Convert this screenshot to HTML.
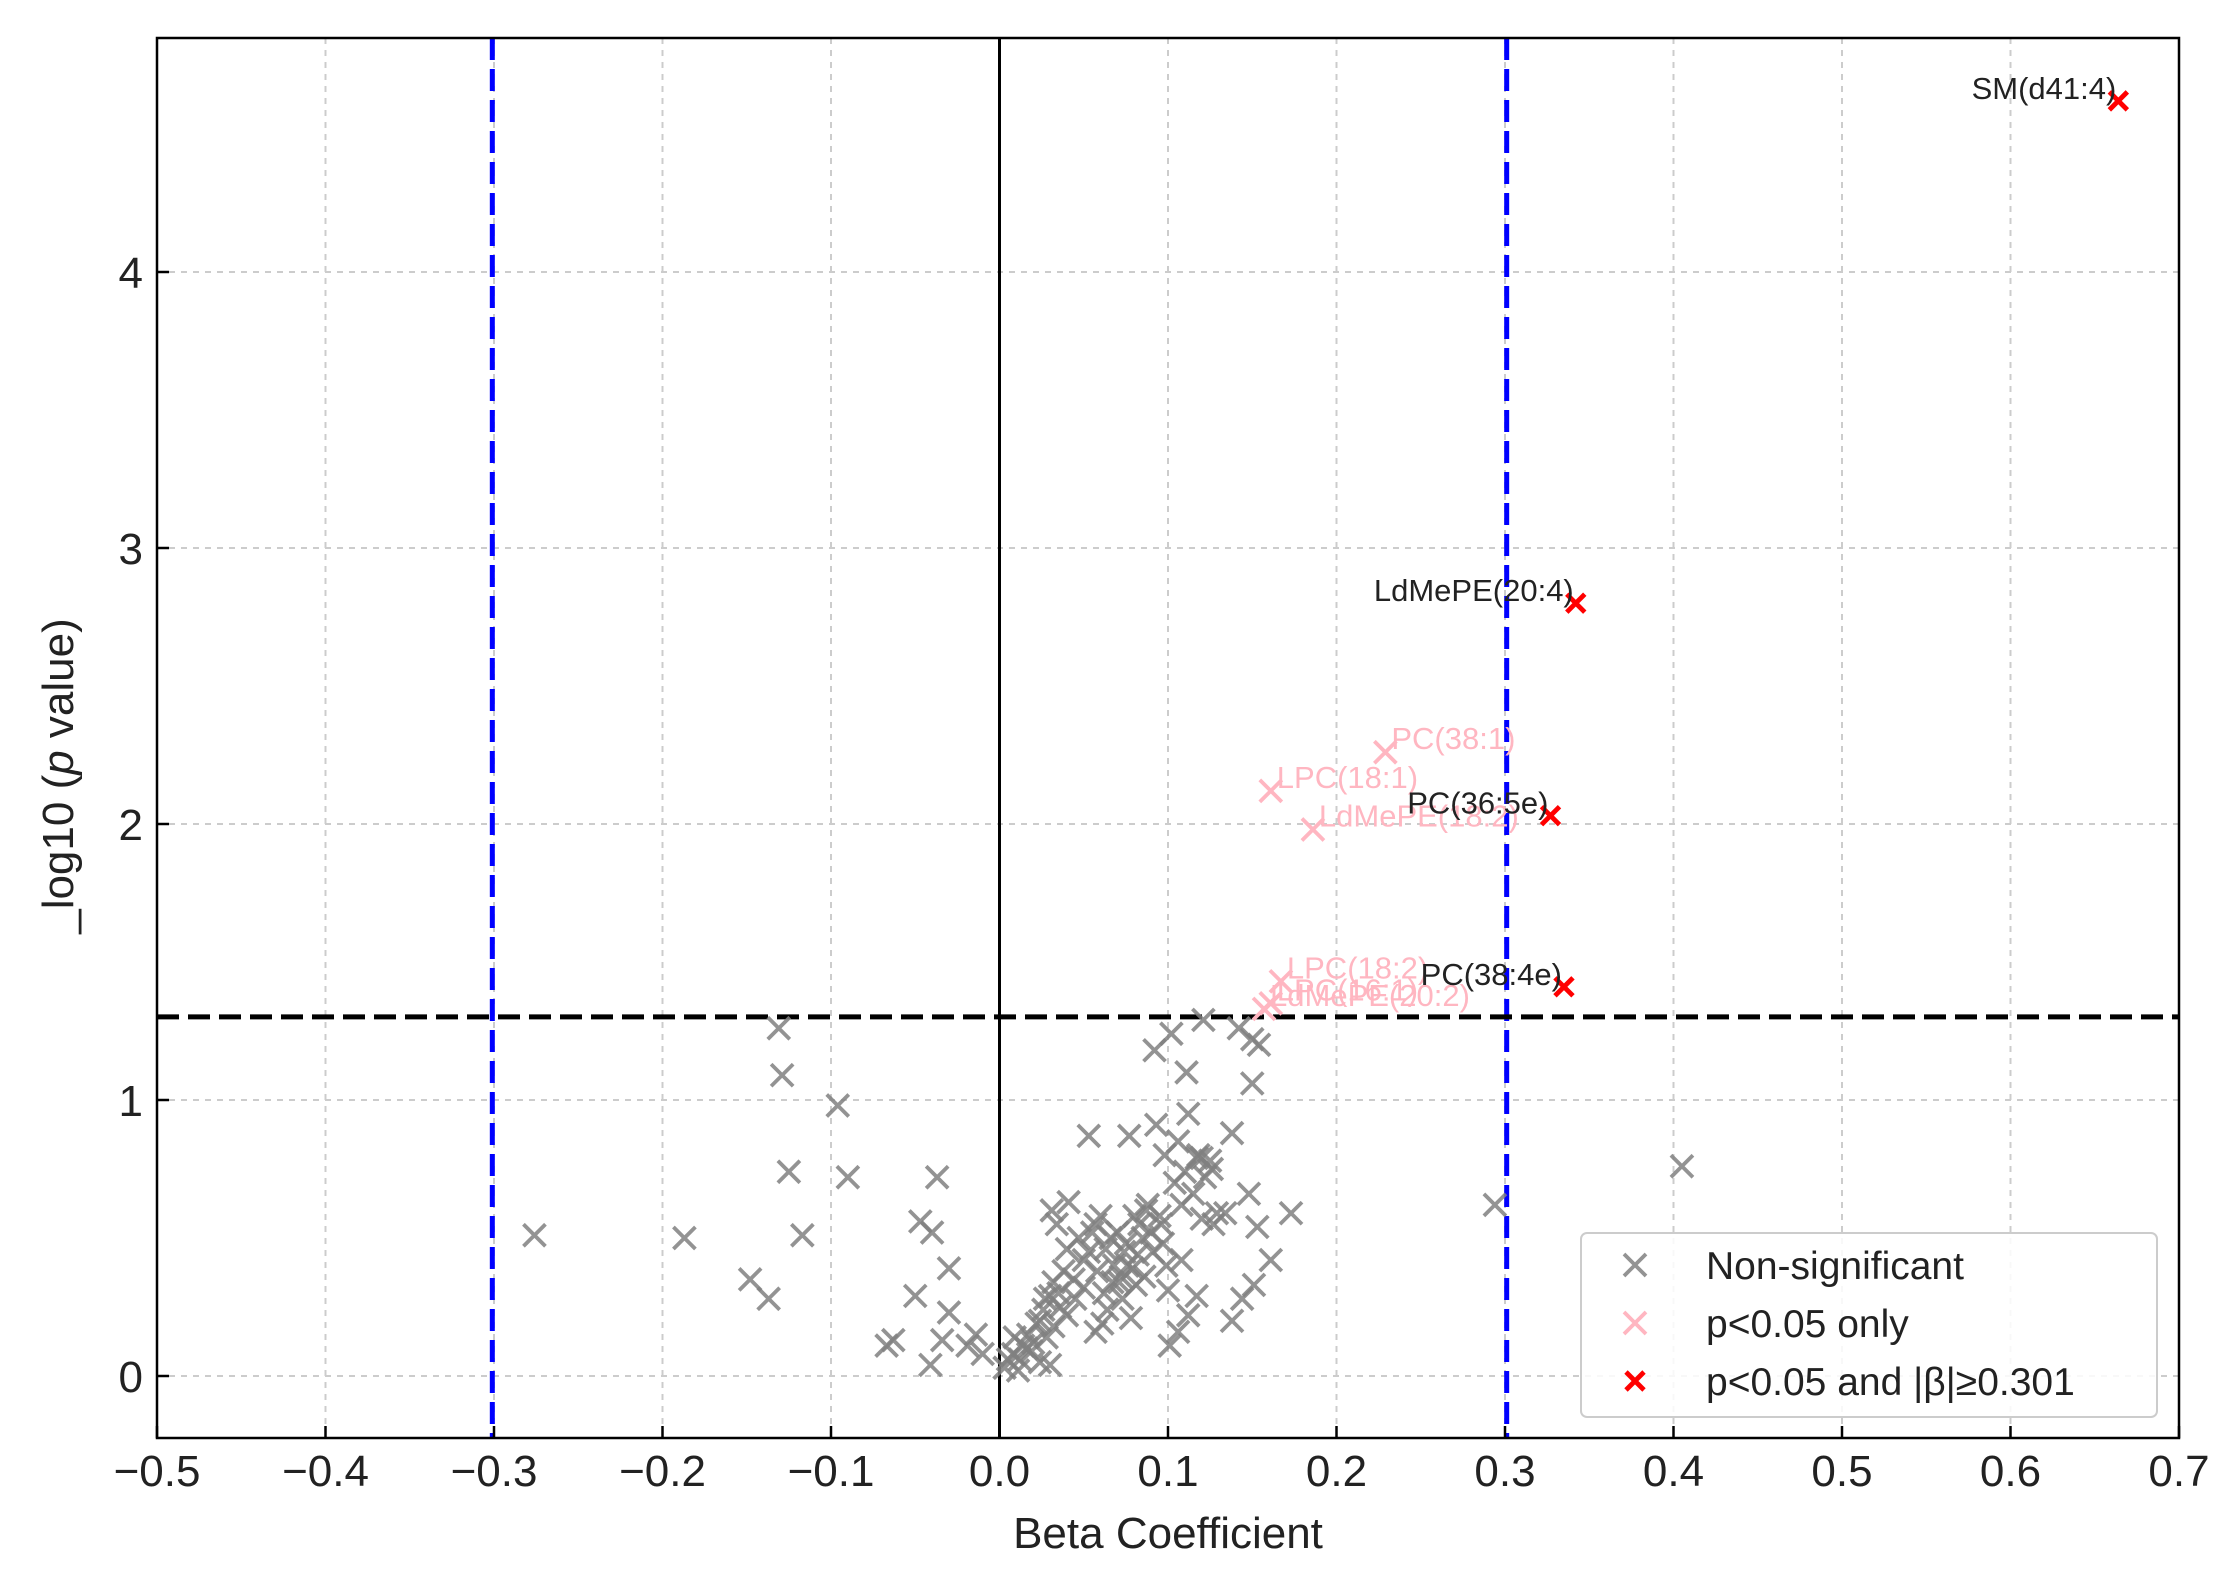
<!DOCTYPE html>
<html><head><meta charset="utf-8">
<style>
html,body{margin:0;padding:0;background:#fff;}
svg{display:block;font-family:"Liberation Sans","DejaVu Sans",sans-serif;}
</style></head>
<body>
<svg id="chart" width="2233" height="1573" viewBox="0 0 2233 1573" xmlns="http://www.w3.org/2000/svg">
<g id="grid"></g>
<g id="refs"></g>
<g id="marks"></g>
<g id="labels"></g>
<rect x="157" y="38" width="2022" height="1400" fill="none" stroke="#000" stroke-width="2.5"/>
<g id="ticks"></g>
<text x="1168" y="1548" font-size="44" text-anchor="middle" fill="#222">Beta Coefficient</text>
<text transform="translate(73,776) rotate(-90)" font-size="44" text-anchor="middle" fill="#222">_log10 (<tspan font-style="italic">p</tspan> value)</text>
<g>
<rect x="1581" y="1233" width="576" height="184" rx="6" fill="#fff" fill-opacity="0.85" stroke="#ccc" stroke-width="2"/>
<g id="legendMarks"></g>
<text x="1706" y="1279" font-size="39" fill="#222">Non-significant</text>
<text x="1706" y="1337" font-size="39" fill="#222">p&lt;0.05 only</text>
<text x="1706" y="1395" font-size="39" fill="#222">p&lt;0.05 and |β|≥0.301</text>
</g>
</svg>
<script>
const xTicks = [-0.5,-0.4,-0.3,-0.2,-0.1,0.0,0.1,0.2,0.3,0.4,0.5,0.6,0.7];
const xTickLabels = ["−0.5","−0.4","−0.3","−0.2","−0.1","0.0","0.1","0.2","0.3","0.4","0.5","0.6","0.7"];
const yTicks = [0,1,2,3,4];
const yTickLabels = ["0","1","2","3","4"];
const grayBeta = [-0.276,-0.187,-0.148,-0.137,-0.131,-0.129,-0.125,-0.117,-0.096,-0.090,-0.067,-0.063,-0.050,-0.047,-0.040,-0.037,-0.041,-0.030,-0.030,-0.034,-0.014,-0.010,-0.019,
0.003,0.008,0.014,0.017,0.022,0.026,0.030,0.032,0.005,0.011,0.019,0.028,0.032,0.036,0.030,0.024,
0.031,0.034,0.041,0.047,0.053,0.057,0.066,0.074,0.079,0.083,0.087,0.091,0.071,0.064,0.057,0.061,0.078,0.100,0.096,0.108,0.117,0.112,0.120,0.129,0.127,0.106,
0.053,0.077,0.092,0.111,0.102,0.121,0.093,0.098,0.106,0.112,0.120,0.125,0.138,0.117,0.150,0.150,0.154,0.142,0.134,0.148,0.153,0.173,0.138,0.144,0.151,0.161,0.101,0.294,0.405,
0.020,0.024,0.027,0.035,0.038,0.040,0.044,0.050,0.055,0.060,0.063,0.068,0.070,0.072,0.075,0.080,0.082,0.085,0.088,0.090,0.095,0.097,0.099,0.104,0.108,0.110,0.115,0.118,0.122,0.126,
0.040,0.045,0.050,0.058,0.062,0.067,0.073,0.076,0.081,0.086,0.012,0.016,0.009];
const grayLogP = [0.51,0.50,0.35,0.28,1.26,1.09,0.74,0.51,0.98,0.72,0.11,0.13,0.29,0.56,0.52,0.72,0.04,0.39,0.23,0.13,0.15,0.08,0.11,
0.03,0.08,0.11,0.15,0.19,0.24,0.29,0.34,0.06,0.02,0.09,0.14,0.18,0.25,0.04,0.05,
0.60,0.55,0.63,0.50,0.45,0.55,0.50,0.45,0.39,0.55,0.60,0.45,0.34,0.24,0.16,0.19,0.21,0.31,0.55,0.42,0.29,0.22,0.57,0.59,0.55,0.16,
0.87,0.87,1.18,1.10,1.24,1.29,0.91,0.80,0.85,0.95,0.79,0.78,0.88,0.79,1.22,1.06,1.20,1.26,0.59,0.66,0.54,0.59,0.20,0.28,0.33,0.42,0.11,0.62,0.76,
0.12,0.20,0.28,0.30,0.38,0.46,0.35,0.42,0.52,0.58,0.46,0.40,0.52,0.36,0.48,0.58,0.44,0.50,0.62,0.52,0.58,0.48,0.40,0.70,0.62,0.74,0.66,0.80,0.72,0.75,
0.22,0.28,0.32,0.38,0.30,0.34,0.28,0.40,0.33,0.36,0.06,0.10,0.14];
const pinkBeta = [0.229,0.161,0.186,0.167,0.161,0.157];
const pinkLogP = [2.26,2.12,1.98,1.43,1.35,1.33];
const pinkNames = ["PC(38:1)","LPC(18:1)","LdMePE(18:2)","LPC(18:2)","LPC(16:1)","LdMePE(20:2)"];
const redBeta = [0.664,0.342,0.327,0.335];
const redLogP = [4.62,2.80,2.03,1.41];
const redNames = ["SM(d41:4)","LdMePE(20:4)","PC(36:5e)","PC(38:4e)"];
const pThresh = 1.301, betaThresh = 0.301;

const X0=157,X1=2179,Y0=38,Y1=1438;
const xs = v => X0 + (v+0.5)/1.2*(X1-X0);
const ys = v => 1376 - v*276;
const NS='http://www.w3.org/2000/svg';
function mk(tag,attrs,parent){const e=document.createElementNS(NS,tag);for(const k in attrs)e.setAttribute(k,attrs[k]);parent.appendChild(e);return e;}
const grid=document.getElementById('grid'),ticks=document.getElementById('ticks'),refs=document.getElementById('refs'),marks=document.getElementById('marks'),labels=document.getElementById('labels');
xTicks.forEach((t,i)=>{
  const x=xs(t);
  const g=mk('line',{x1:x,x2:x,y1:Y0,y2:Y1,stroke:'#ccc','stroke-width':2,'stroke-dasharray':'6,6'},grid);
  
  
  const tk=mk('line',{x1:x,x2:x,y1:Y1,y2:Y1-12,stroke:'#000','stroke-width':2.5},ticks);
  
  
  const tl=mk('text',{x:x,y:1486,'font-size':44,'text-anchor':'middle',fill:'#222'},ticks);
  
  
  tl.textContent=xTickLabels[i];
});
yTicks.forEach((t,i)=>{
  const y=ys(t);
  const g=mk('line',{x1:X0,x2:X1,y1:y,y2:y,stroke:'#ccc','stroke-width':2,'stroke-dasharray':'6,6'},grid);
  
  
  const tk=mk('line',{x1:X0,x2:X0+12,y1:y,y2:y,stroke:'#000','stroke-width':2.5},ticks);
  
  
  const tl=mk('text',{x:143,y:y+16,'font-size':44,'text-anchor':'end',fill:'#222'},ticks);
  
  
  tl.textContent=yTickLabels[i];
});
let r;
r=mk('line',{x1:xs(0),x2:xs(0),y1:Y0,y2:Y1,stroke:'#000','stroke-width':3},refs);


r=mk('line',{x1:xs(-betaThresh),x2:xs(-betaThresh),y1:Y0,y2:Y1,stroke:'#0000ff','stroke-width':5,'stroke-dasharray':'22,9'},refs);


r=mk('line',{x1:xs(betaThresh),x2:xs(betaThresh),y1:Y0,y2:Y1,stroke:'#0000ff','stroke-width':5,'stroke-dasharray':'22,9'},refs);


r=mk('line',{x1:X0,x2:X1,y1:ys(pThresh),y2:ys(pThresh),stroke:'#000','stroke-width':5,'stroke-dasharray':'22,9'},refs);



function cross(parent,x,y,color,s,w,op){
  return mk('path',{d:`M${x-s},${y-s}L${x+s},${y+s}M${x-s},${y+s}L${x+s},${y-s}`,stroke:color,'stroke-width':w,'stroke-opacity':op,fill:'none'},parent);
}
grayBeta.forEach((b,i)=>{
  const m=cross(marks,xs(b),ys(grayLogP[i]),'#808080',11,3.8,0.85);
  
  
});
pinkBeta.forEach((b,i)=>{
  const x=xs(b),y=ys(pinkLogP[i]);
  const m=cross(marks,x,y,'#ffb6c1',11,3.8,1);
  
  
  const t=mk('text',{x:x+6,y:y-3,'font-size':31,fill:'#ffb6c1'},labels);
  
  
  t.textContent=pinkNames[i];
});
redBeta.forEach((b,i)=>{
  const x=xs(b),y=ys(redLogP[i]);
  const m=cross(marks,x,y,'#ff0000',9,4.8,1);
  
  
  const t=mk('text',{x:x-2,y:y-2,'font-size':31,'text-anchor':'end',fill:'#222'},labels);
  
  
  t.textContent=redNames[i];
});
const lm=document.getElementById('legendMarks');
let l;
l=cross(lm,1635,1265,'#808080',11,3.8,0.85);


l=cross(lm,1635,1323,'#ffb6c1',11,3.8,1);


l=cross(lm,1635,1381,'#ff0000',9,4.8,1);


</script>
</body></html>
